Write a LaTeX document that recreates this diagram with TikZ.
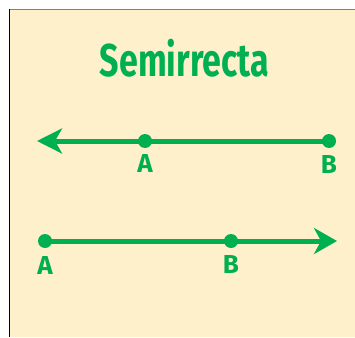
\documentclass[tikz,border=0pt]{standalone}
\usepackage{fontspec}
\setsansfont{Fira Sans}
\newfontfamily\titlefont[FakeStretch=0.74]{Fira Sans}
\usepackage[outline]{contour}
\contourlength{2pt}
\usepackage{tikz}
\usetikzlibrary{arrows.meta,positioning}
\definecolor{raygreen}{HTML}{00B050}
\definecolor{paper}{HTML}{FFF0CC}

\begin{document}
\begin{tikzpicture}[x = 1pt, y = -1pt,
    ray/.style = {raygreen, line width = 5pt},
    pt/.style = {circle, fill = raygreen, inner sep = 0pt, minimum size = 14pt},
    lbl/.style = {text = raygreen, font = \sffamily\bfseries\fontsize{26}{26}\selectfont, inner sep = 0pt}]
    \useasboundingbox (0,0) rectangle (355,337);
    % Frame
    \fill[paper] (9,10) rectangle (355,337);
    \draw[gray, line width = 1.5pt] (9,9.5) -- (355,9.5);
    \draw[black, line width = 1.2pt] (9.5,9) -- (9.5,337);
    % Title
    \node (title) at (184.5,58) {\titlefont\bfseries\fontsize{46}{46}\selectfont\contourlength{2.5pt}\contour{white}{\textcolor{raygreen}{Semirrecta}}};
    % Ray from A through B, pointing left
    \node[pt] (a1) at (145,141) {};
    \node[pt] (b1) at (329,141) {};
    \coordinate (t1) at (37,141);
    \draw[ray] (b1.center) -- (a1.center);
    \draw[ray, -{Stealth[length = 25pt, width = 25pt, inset = 7pt]}] (a1.center) -- (t1);
    \node[lbl, below = 6pt of a1] (la1) {A};
    \node[lbl, below = 7pt of b1] (lb1) {B};
    % Ray from A through B, pointing right
    \node[pt] (a2) at (45,241) {};
    \node[pt] (b2) at (231,241) {};
    \coordinate (t2) at (337,241);
    \draw[ray] (a2.center) -- (b2.center);
    \draw[ray, -{Stealth[length = 23pt, width = 26pt, inset = 7pt]}] (b2.center) -- (t2);
    \node[lbl, below = 8pt of a2] (la2) {A};
    \node[lbl, below = 7pt of b2] (lb2) {B};
\end{tikzpicture}
\end{document}
